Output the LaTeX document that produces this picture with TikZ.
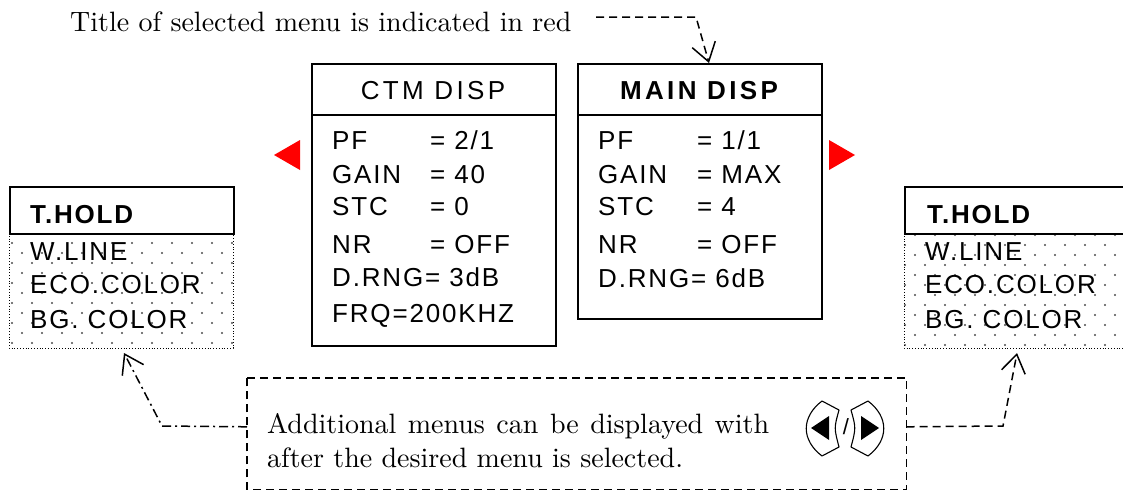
\documentclass[tikz,border=0pt]{standalone}
\usepackage{fontspec}
\newfontfamily\menufont{Liberation Sans}[LetterSpace=7]
\newfontfamily\titlefont{Liberation Sans}[LetterSpace=13]
\newfontfamily\serifx{lmroman10-regular}[Extension=.otf]
\usetikzlibrary{arrows.meta}
\definecolor{dotc}{gray}{0.3}
\begin{document}
\begin{tikzpicture}[x=1pt,y=-1pt,
  menubox/.style={draw, line width=1.6pt, inner sep=0, anchor=north west},
  mtext/.style={font=\menufont\fontsize{26}{30}\selectfont, anchor=base west, inner sep=0},
  ttext/.style={font=\titlefont\fontsize{26}{30}\selectfont, anchor=base, inner sep=0},
  btext/.style={font=\titlefont\bfseries\fontsize{26}{30}\selectfont, anchor=base, inner sep=0},
  hbtext/.style={font=\menufont\bfseries\fontsize{26}{30}\selectfont, anchor=base west, inner sep=0},
  stext/.style={font=\serifx\fontsize{28}{32}\selectfont, anchor=base west, inner sep=0},
  dashline/.style={line width=1.5pt, dash pattern=on 8pt off 5pt},
  dashdotline/.style={line width=1.5pt, dash pattern=on 9pt off 4pt on 2pt off 4pt},
  barb/.style={-{Straight Barb[length=18pt,width=24pt,line width=1.5pt]}},
  dotborder/.style={line width=0.8pt, dotted},
  redtri/.style={fill=red}]
\useasboundingbox (0,0) rectangle (1123,490);

% ---------- title and its arrow ----------
\node[stext] (ttl) at (70,31) {Title of selected menu is indicated in red};

% ---------- CTM DISP ----------
\node[menubox, minimum width=244pt, minimum height=282pt] (ctm) at (311,63) {};
\draw[line width=1.6pt] ([yshift=-52pt]ctm.north west) -- ([yshift=-52pt]ctm.north east);
\node[ttext] (ctmt) at (433,99) {CTM DISP};
\node[mtext] (c1a) at (332,149) {PF};    \node[mtext] (c1b) at (430,149) {= 2/1};
\node[mtext] (c2a) at (332,183) {GAIN};  \node[mtext] (c2b) at (430,183) {= 40};
\node[mtext] (c3a) at (332,215) {STC};   \node[mtext] (c3b) at (430,215) {= 0};
\node[mtext] (c4a) at (332,253) {NR};    \node[mtext] (c4b) at (430,253) {= OFF};
\node[mtext] (c5) at (332,286) {D.RNG= 3dB};
\node[mtext] (c6) at (332,322) {FRQ=200KHZ};

% ---------- MAIN DISP ----------
\node[menubox, minimum width=244pt, minimum height=255pt] (main) at (577,63) {};
\draw[line width=1.6pt] ([yshift=-52pt]main.north west) -- ([yshift=-52pt]main.north east);
\node[btext] (maint) at (699,99) {MAIN DISP};
\node[mtext] (m1a) at (598,149) {PF};    \node[mtext] (m1b) at (697,149) {= 1/1};
\node[mtext] (m2a) at (598,183) {GAIN};  \node[mtext] (m2b) at (697,183) {= MAX};
\node[mtext] (m3a) at (598,215) {STC};   \node[mtext] (m3b) at (697,215) {= 4};
\node[mtext] (m4a) at (598,253) {NR};    \node[mtext] (m4b) at (697,253) {= OFF};
\node[mtext] (m5) at (598,287) {D.RNG= 6dB};

% red triangles
\fill[redtri] (274,155) -- (300,140) -- (300,170) -- cycle;
\fill[redtri] (855,155) -- (829,140) -- (829,170) -- cycle;

% title arrow
\coordinate (tt0) at (596,17);
\coordinate (tt1) at (696,17);
\coordinate (ttip) at (709,63);
\draw[dashline, barb] (tt0) -- (tt1) -- (ttip);

% ---------- T.HOLD left ----------
\begin{scope}
\clip (9,233) rectangle (233,348);
\foreach \j in {0,...,11} {
  \pgfmathtruncatemacro\off{mod(\j,2)*10}
  \foreach \i in {0,...,11} {
    \fill[dotc] ({12+\off+20*\i},{343-10*\j}) circle (1.2pt);
  }
}
\end{scope}
\draw[dotborder] (9,233) rectangle (233,348);
\node[menubox, minimum width=224pt, minimum height=47pt, fill=white] (thl) at (9,186) {};
\node[hbtext] (thlt) at (30,223) {T.HOLD};
\node[mtext] (l1) at (30,260) {W.LINE};
\node[mtext] (l2) at (30,293) {ECO.COLOR};
\node[mtext] (l3) at (30,328) {BG. COLOR};
\coordinate (tipL) at (124,353);

% ---------- T.HOLD right ----------
\begin{scope}
\clip (904,233) rectangle (1130,348);
\foreach \j in {0,...,11} {
  \pgfmathtruncatemacro\off{mod(\j,2)*10}
  \foreach \i in {0,...,11} {
    \fill[dotc] ({905+\off+20*\i},{345-10*\j}) circle (1.2pt);
  }
}
\end{scope}
\draw[dotborder] (904,233) rectangle (1140,348);
\node[menubox, minimum width=240pt, minimum height=47pt, fill=white] (thr) at (904,186) {};
\node[hbtext] (thrt) at (927,223) {T.HOLD};
\node[mtext] (r1) at (925,260) {W.LINE};
\node[mtext] (r2) at (925,293) {ECO.COLOR};
\node[mtext] (r3) at (925,328) {BG. COLOR};
\coordinate (tipR) at (1017,353);

% ---------- note box ----------
\node[menubox, draw=none, minimum width=658pt, minimum height=110pt] (note) at (247,378) {};
\draw[dashline] (note.north west) -- (note.north east) -- (note.south east) -- (note.south west) -- cycle;
\node[stext] (n1) at (267,433) {\spaceskip=11.5pt Additional menus can be displayed with};
\node[stext] (n2) at (267,467) {after the desired menu is selected.};

% buttons
\draw[line width=1.1pt, line join=round] (822,401) -- (839,410) .. controls (834,428) .. (839,447) -- (822,456) .. controls (801,440) and (801,417) .. cycle;
\fill (811,428) -- (829,416) -- (829,440) -- cycle;
\node[font=\menufont\fontsize{22}{26}\selectfont, inner sep=0] (slash) at (846,427) {/};
\draw[line width=1.1pt, line join=round] (868,401) -- (851,410) .. controls (856,428) .. (851,447) -- (868,456) .. controls (889,440) and (889,417) .. cycle;
\fill (879,428) -- (861,416) -- (861,440) -- cycle;

% connectors
\coordinate (cL) at (162,426);
\coordinate (cR) at (1003,426);
\draw[dashdotline, barb] ([yshift=7pt]note.west) -- (cL) -- (tipL);
\draw[dashline, barb] ([yshift=7pt]note.east) -- (cR) -- (tipR);
\end{tikzpicture}
\end{document}
